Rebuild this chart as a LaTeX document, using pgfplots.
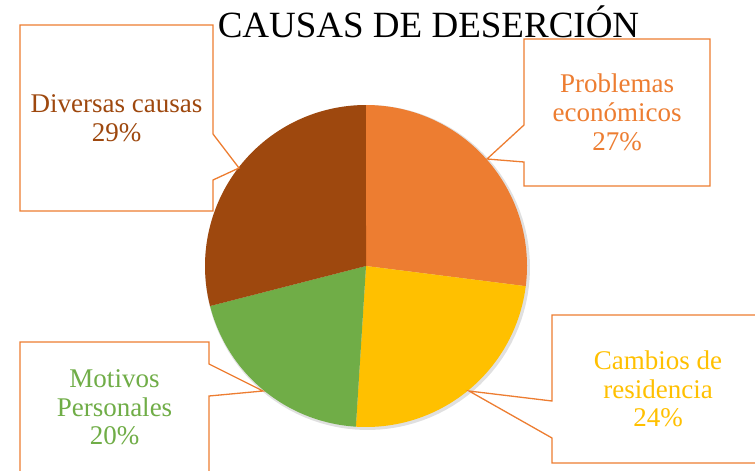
\documentclass[border=0pt]{standalone}
\usepackage{fontspec}
\setmainfont{Liberation Serif}
\usepackage{pgfplots}
\usepackage{pgfplotstable}
\pgfplotsset{compat=1.18}
\definecolor{cEcon}{HTML}{ED7D31}
\definecolor{cCamb}{HTML}{FFC000}
\definecolor{cMot}{HTML}{70AD47}
\definecolor{cDiv}{HTML}{9E480E}
\pgfplotstableread{
label value
econ 27
cambios 24
motivos 20
diversas 29
}\piedata
\begin{document}
\begin{tikzpicture}
\pgfplotstablegetelem{0}{value}\of\piedata \pgfmathsetmacro{\aA}{\pgfplotsretval*3.6}
\pgfplotstablegetelem{1}{value}\of\piedata \pgfmathsetmacro{\aB}{\aA+\pgfplotsretval*3.6}
\pgfplotstablegetelem{2}{value}\of\piedata \pgfmathsetmacro{\aC}{\aB+\pgfplotsretval*3.6}
\pgfplotstablegetelem{3}{value}\of\piedata \pgfmathsetmacro{\aD}{\aC+\pgfplotsretval*3.6}
\begin{axis}[width=755bp, height=471bp, scale only axis,
  xmin=0, xmax=755, ymin=0, ymax=471, y dir=reverse, hide axis]
% shadow
\addplot[fill=black!12, draw=none, domain=0:360, samples=120] ({367.5+162.5*sin(x)},{267.5-162.5*cos(x)}) -- cycle;
\addplot[fill=cEcon, draw=none, domain=0:\aA, samples=80] ({366+161*sin(x)},{266-161*cos(x)}) -- (axis cs:366,266) -- cycle;
\addplot[fill=cCamb, draw=none, domain=\aA:\aB, samples=80] ({366+161*sin(x)},{266-161*cos(x)}) -- (axis cs:366,266) -- cycle;
\addplot[fill=cMot, draw=none, domain=\aB:\aC, samples=80] ({366+161*sin(x)},{266-161*cos(x)}) -- (axis cs:366,266) -- cycle;
\addplot[fill=cDiv, draw=none, domain=\aC:\aD, samples=80] ({366+161*sin(x)},{266-161*cos(x)}) -- (axis cs:366,266) -- cycle;
% callouts
\draw[cEcon, line width=1.3bp, fill=white] (axis cs:20,25) -- (axis cs:213,25) -- (axis cs:213,134) -- (axis cs:239,168) -- (axis cs:213,180) -- (axis cs:213,211) -- (axis cs:20,211) -- cycle;
\draw[cEcon, line width=1.3bp, fill=white] (axis cs:524,39) -- (axis cs:710,39) -- (axis cs:710,186) -- (axis cs:524,186) -- (axis cs:524,162) -- (axis cs:487,159) -- (axis cs:524,125) -- cycle;
\fill[white] (axis cs:552,315) -- (axis cs:755,315) -- (axis cs:755,463) -- (axis cs:552,463) -- (axis cs:552,438) -- (axis cs:469,391) -- (axis cs:552,401) -- cycle;
\draw[cEcon, line width=1.3bp] (axis cs:755,315) -- (axis cs:552,315) -- (axis cs:552,401) -- (axis cs:469,391) -- (axis cs:552,438) -- (axis cs:552,463) -- (axis cs:755,463);
\fill[white] (axis cs:20,342) -- (axis cs:209,342) -- (axis cs:209,364) -- (axis cs:263,391) -- (axis cs:209,396) -- (axis cs:209,471) -- (axis cs:20,471) -- cycle;
\draw[cEcon, line width=1.3bp] (axis cs:20,471) -- (axis cs:20,342) -- (axis cs:209,342) -- (axis cs:209,364) -- (axis cs:263,391) -- (axis cs:209,396) -- (axis cs:209,471);
% texts
\node[anchor=base, inner sep=0pt, font=\rmfamily\fontsize{37bp}{40bp}\selectfont] at (axis cs:428.5,38) {CAUSAS DE DESERCIÓN};
\begin{scope}[every node/.style={anchor=base, inner sep=0pt, font=\rmfamily\fontsize{27bp}{29bp}\selectfont}]
\node[text=cDiv] at (axis cs:116.5,112) {Diversas causas};
\node[text=cDiv] at (axis cs:116.5,141) {29\%};
\node[text=cEcon] at (axis cs:617,92) {Problemas};
\node[text=cEcon] at (axis cs:617,121.5) {económicos};
\node[text=cEcon] at (axis cs:617,150) {27\%};
\node[text=cCamb] at (axis cs:658,369) {Cambios de};
\node[text=cCamb] at (axis cs:658,398) {residencia};
\node[text=cCamb] at (axis cs:658,426) {24\%};
\node[text=cMot] at (axis cs:114.5,387) {Motivos};
\node[text=cMot] at (axis cs:114.5,416) {Personales};
\node[text=cMot] at (axis cs:114.5,444) {20\%};
\end{scope}
\end{axis}
\pgfresetboundingbox
\useasboundingbox (current axis.south west) rectangle (current axis.north east);
\end{tikzpicture}
\end{document}
